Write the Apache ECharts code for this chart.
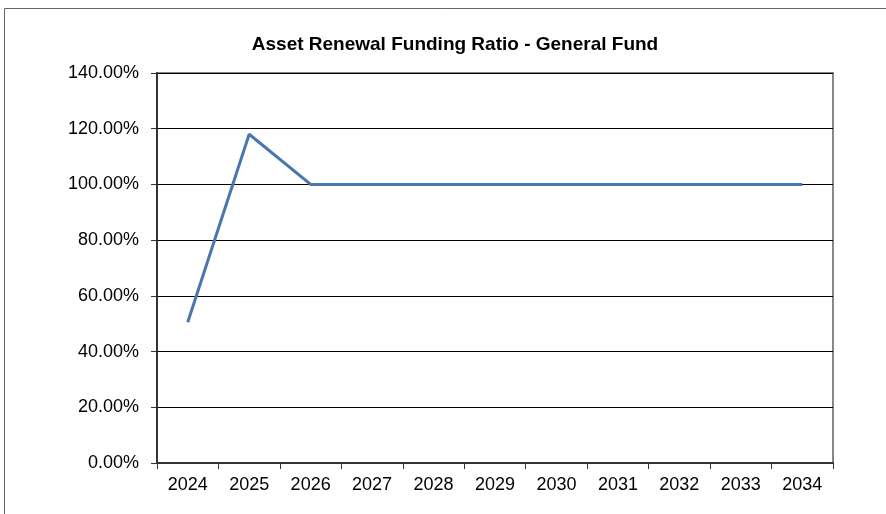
<!DOCTYPE html>
<html><head><meta charset="utf-8">
<script src="https://cdn.jsdelivr.net/npm/echarts@6/dist/echarts.min.js"></script>
<style>html,body{margin:0;padding:0;background:#fff;}#c{width:886px;height:514px;}</style>
</head><body><div id="c"></div>
<script>
var categories = ['2024','2025','2026','2027','2028','2029','2030','2031','2032','2033','2034'];
var ratioValues = [50.5, 118, 100, 100, 100, 100, 100, 100, 100, 100, 100];
var yTicks = [0, 20, 40, 60, 80, 100, 120, 140];
var chart = echarts.init(document.getElementById('c'));
chart.setOption({
  animation: false,
  backgroundColor: '#fff',
  title: {
    text: 'Asset Renewal Funding Ratio - General Fund',
    left: 450, top: 30, textAlign: 'center',
    textStyle: {fontFamily: 'Liberation Sans', fontSize: 19, fontWeight: 'bold', color: '#000'}
  },
  graphic: [{
    type: 'rect', shape: {x: 4.5, y: 8.5, width: 900, height: 520},
    style: {fill: 'none', stroke: '#666', lineWidth: 1}, silent: true, z: -1
  }],
  grid: {left: 157, right: 53, top: 73, bottom: 51, show: true, borderColor: '#888', borderWidth: 2, backgroundColor: 'transparent'},
  xAxis: {
    type: 'category', data: categories, boundaryGap: true,
    axisLine: {lineStyle: {color: '#333', width: 2}},
    axisTick: {show: true, alignWithLabel: false, length: 6, lineStyle: {color: '#333'}},
    axisLabel: {fontFamily: 'Liberation Sans', fontSize: 18, color: '#000', margin: 13}
  },
  yAxis: {
    type: 'value', min: yTicks[0], max: yTicks[yTicks.length - 1], interval: 20,
    axisLine: {show: true, lineStyle: {color: '#333', width: 2}},
    axisTick: {show: true, length: 6, lineStyle: {color: '#333'}},
    splitLine: {lineStyle: {color: '#000', width: 1}},
    axisLabel: {fontFamily: 'Liberation Sans', fontSize: 18, color: '#000', margin: 18,
      formatter: function (v) { return v.toFixed(2) + '%'; }}
  },
  series: [{
    type: 'line', data: ratioValues, symbol: 'none',
    lineStyle: {color: '#4A76AE', width: 3}
  }]
});
</script></body></html>
